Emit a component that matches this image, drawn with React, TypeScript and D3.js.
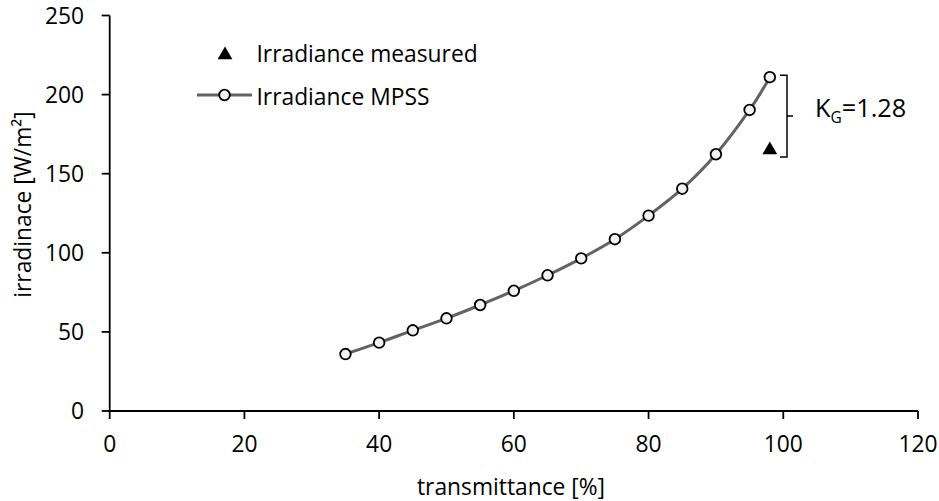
import React from "react";
import * as d3 from "d3";

const transmittance = [35, 40, 45, 50, 55, 60, 65, 70, 75, 80, 85, 90, 95, 98];
const irradianceMPSS = [36, 43.2, 51, 58.6, 67, 76, 85.8, 96.5, 108.6, 123.5, 140.5, 162.3, 190.3, 211];
const measuredX = [98];
const measuredY = [165];
const xTicks = [0, 20, 40, 60, 80, 100, 120];
const yTicks = [0, 50, 100, 150, 200, 250];
const legendLabels = ["Irradiance measured", "Irradiance MPSS"];
const ratioLabel = "1.28";

const W = 939;
const H = 501;
const FONT = "'Open Sans', sans-serif";
const FS = 22.8;

export default function App() {
  const x = d3.scaleLinear().domain([0, 120]).range([109.7, 918]);
  const y = d3.scaleLinear().domain([0, 250]).range([411, 15.5]);
  const pts = transmittance.map((t, i) => [x(t), y(irradianceMPSS[i])] as [number, number]);
  const line = d3.line().curve(d3.curveCardinal.tension(0))(pts) || "";
  const tri = d3.symbol().type(d3.symbolTriangle).size(95)() || "";

  const bx = 787;
  const bTop = y(irradianceMPSS[irradianceMPSS.length - 1]) - 2;
  const bBot = y(measuredY[0]) + 7;
  const bMid = (bTop + bBot) / 2;

  return (
    <svg width={W} height={H} style={{ position: "absolute", left: 0, top: 0, background: "#fff" }} fontFamily={FONT}>
      <rect width={W} height={H} fill="#fff" />
      {/* axes */}
      <line x1={x(0)} x2={x(0)} y1={y(250)} y2={y(0)} stroke="#000" strokeWidth={1.8} />
      <line x1={x(0)} x2={x(120)} y1={y(0)} y2={y(0)} stroke="#000" strokeWidth={1.8} />
      {yTicks.map((t) => (
        <g key={"y" + t}>
          <line x1={x(0) - 8} x2={x(0)} y1={y(t)} y2={y(t)} stroke="#000" strokeWidth={1.8} />
          <text x={84} y={y(t)} dy="0.36em" textAnchor="end" fontSize={FS} fill="#000">{t}</text>
        </g>
      ))}
      {xTicks.map((t) => (
        <g key={"x" + t}>
          <line x1={x(t)} x2={x(t)} y1={y(0)} y2={y(0) + 8} stroke="#000" strokeWidth={1.8} />
          <text x={x(t)} y={451.5} textAnchor="middle" fontSize={FS} fill="#000">{t}</text>
        </g>
      ))}
      <text x={511} y={495} textAnchor="middle" fontSize={FS} fill="#000">transmittance [%]</text>
      <text transform={`translate(31,204.5) rotate(-90)`} textAnchor="middle" fontSize={FS} fill="#000">
        irradinace [W/m²]
      </text>

      {/* series */}
      <path d={line} fill="none" stroke="#636363" strokeWidth={3} />
      {pts.map((p, i) => (
        <circle key={i} cx={p[0]} cy={p[1]} r={5.3} fill="#f2f2f2" stroke="#000" strokeWidth={1.8} />
      ))}
      {measuredX.map((mx, i) => (
        <path key={"m" + i} d={tri} transform={`translate(${x(mx)},${y(measuredY[i])})`} fill="#000" />
      ))}

      {/* bracket */}
      <path
        d={`M${bx - 7},${bTop}H${bx}V${bBot}H${bx - 7}M${bx},${bMid}H${bx + 6}`}
        fill="none"
        stroke="#000"
        strokeWidth={1.5}
      />
      <text x={815} y={117} fontSize={FS + 2.5} fill="#000">
        K<tspan fontSize={15.5} dy={6}>G</tspan>
        <tspan dy={-6}>={ratioLabel}</tspan>
      </text>

      {/* legend */}
      <path d={tri} transform="translate(225,55)" fill="#000" />
      <text x={256.5} y={61.5} fontSize={FS} fill="#000">{legendLabels[0]}</text>
      <line x1={197} x2={252} y1={95} y2={95} stroke="#636363" strokeWidth={3} />
      <circle cx={224.5} cy={95} r={5.3} fill="#f2f2f2" stroke="#000" strokeWidth={1.8} />
      <text x={256.5} y={104.5} fontSize={FS} fill="#000">{legendLabels[1]}</text>
    </svg>
  );
}
